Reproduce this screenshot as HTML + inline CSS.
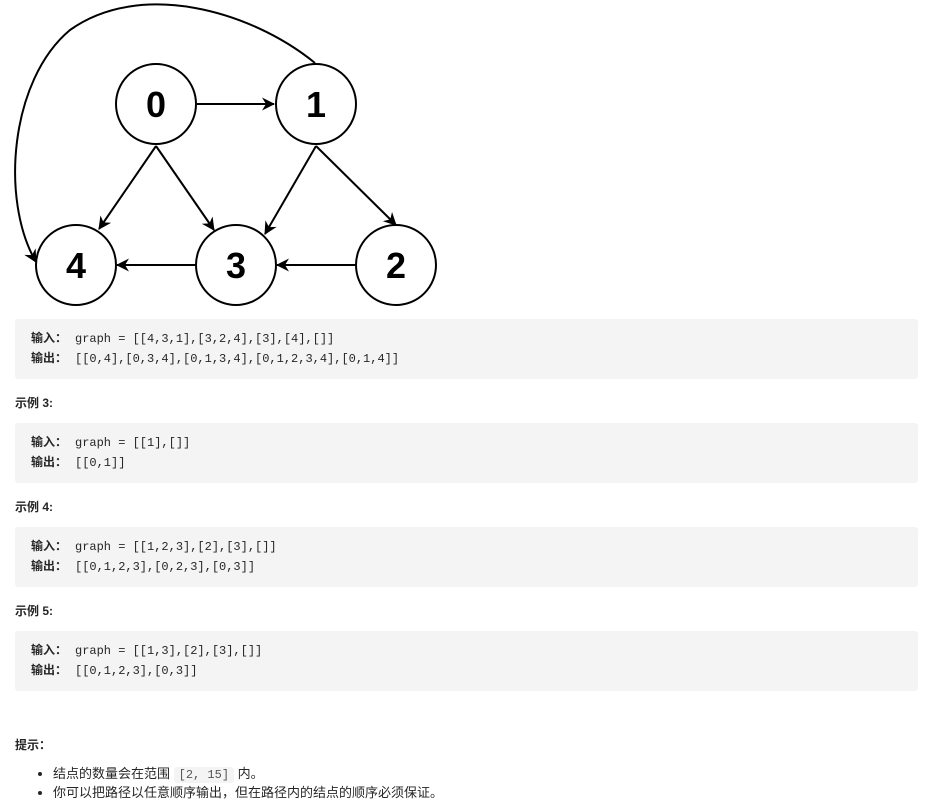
<!DOCTYPE html><html><head><meta charset="utf-8"><style>
body{margin:0;width:938px;height:801px;background:#fff;position:relative;font-family:"Liberation Sans","Noto Sans CJK SC",sans-serif;color:#262626;overflow:hidden}
.pre{position:absolute;left:15px;width:903px;height:60px;background:#f4f4f4;border-radius:3px;font-family:"Liberation Mono","Noto Sans CJK SC",monospace;font-size:12px;line-height:19px;box-sizing:border-box;padding:10px 16px;color:#262626}
.pre b{font-family:"Liberation Sans","Noto Sans CJK SC",sans-serif;font-weight:bold;display:inline-block;width:44px}
.h{position:absolute;left:15px;font-size:12px;font-weight:bold}
ul{position:absolute;left:0;top:765px;margin:0;padding-left:53px;font-size:13px;line-height:18px}
code{background:#f4f4f4;font-family:"Liberation Mono",monospace;font-size:12px;padding:1px 5px;border-radius:3px;color:#555}
</style></head><body>
<svg width="460" height="310" style="position:absolute;left:0;top:0">
<defs><marker id="a" markerWidth="13" markerHeight="13" refX="12" refY="6.5" orient="auto" markerUnits="userSpaceOnUse"><path d="M0,0 L13,6.5 L0,13 L4,6.5z" fill="#000"/></marker></defs>
<g stroke="#000" stroke-width="2" fill="none">
<path d="M315,63 C250,10 140,-20 70,30 C10,80 0,200 36,262" marker-end="url(#a)"/>
<line x1="197" y1="104" x2="274" y2="104" marker-end="url(#a)"/>
<line x1="156" y1="146" x2="99" y2="229" marker-end="url(#a)"/>
<line x1="156" y1="146" x2="214" y2="230" marker-end="url(#a)"/>
<line x1="316" y1="146" x2="265" y2="234" marker-end="url(#a)"/>
<line x1="316" y1="146" x2="396" y2="225" marker-end="url(#a)"/>
<line x1="196" y1="265" x2="117" y2="265" marker-end="url(#a)"/>
<line x1="356" y1="265" x2="277" y2="265" marker-end="url(#a)"/>
</g>
<g stroke="#000" stroke-width="2" fill="#fff">
<circle cx="156" cy="104" r="40"/><circle cx="316" cy="104" r="40"/><circle cx="76" cy="265" r="40"/><circle cx="236" cy="265" r="40"/><circle cx="396" cy="265" r="40"/></g>
<g font-family="Liberation Sans" font-weight="bold" font-size="36" text-anchor="middle"><text x="156" y="117">0</text><text x="316" y="117">1</text><text x="76" y="278">4</text><text x="236" y="278">3</text><text x="396" y="278">2</text></g>
</svg>
<div class="pre" style="top:319px"><b>输入：</b>graph = [[4,3,1],[3,2,4],[3],[4],[]]<br><b>输出：</b>[[0,4],[0,3,4],[0,1,3,4],[0,1,2,3,4],[0,1,4]]</div>
<div class="h" style="top:394px">示例 3:</div>
<div class="pre" style="top:423px"><b>输入：</b>graph = [[1],[]]<br><b>输出：</b>[[0,1]]</div>
<div class="h" style="top:498px">示例 4:</div>
<div class="pre" style="top:527px"><b>输入：</b>graph = [[1,2,3],[2],[3],[]]<br><b>输出：</b>[[0,1,2,3],[0,2,3],[0,3]]</div>
<div class="h" style="top:602px">示例 5:</div>
<div class="pre" style="top:631px"><b>输入：</b>graph = [[1,3],[2],[3],[]]<br><b>输出：</b>[[0,1,2,3],[0,3]]</div>
<div class="h" style="top:736px">提示：</div>
<ul><li>结点的数量会在范围 <code>[2, 15]</code> 内。</li><li>你可以把路径以任意顺序输出，但在路径内的结点的顺序必须保证。</li></ul>
</body></html>
